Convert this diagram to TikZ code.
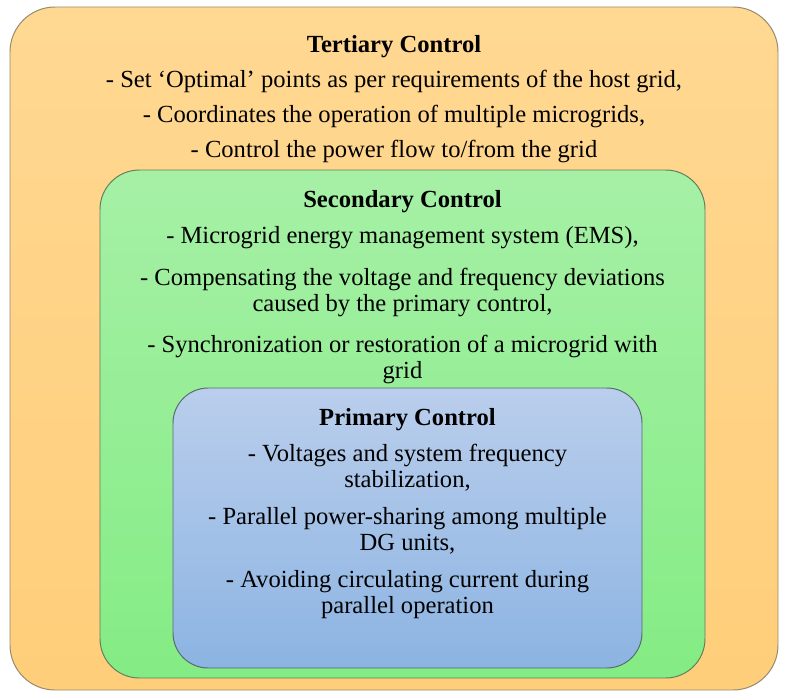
\documentclass[tikz,border=0pt]{standalone}
\usepackage{fontspec}
\newfontfamily\diagfont{Liberation Serif}[Ligatures={TeX,NoCommon}]
\usepackage{tikz}

\definecolor{tertiarytop}{RGB}{255,216,146}
\definecolor{tertiarybot}{RGB}{255,206,122}
\definecolor{tertiaryline}{RGB}{150,138,108}
\definecolor{secondarytop}{RGB}{166,240,166}
\definecolor{secondarybot}{RGB}{132,236,132}
\definecolor{secondaryline}{RGB}{96,128,92}
\definecolor{primarytop}{RGB}{186,206,236}
\definecolor{primarybot}{RGB}{140,180,226}
\definecolor{primaryline}{RGB}{86,108,112}

\begin{document}
\begin{tikzpicture}[x=0.025cm, y=-0.025cm,
    level/.style={line width=0.7pt},
    txt/.style={align=center, inner sep=0pt,
                font=\diagfont\fontsize{17.5}{18.5}\selectfont}]
  \useasboundingbox (0,0) rectangle (785,692);

  % the three nested levels
  \draw[level, rounded corners=32pt, draw=tertiaryline,
        top color=tertiarytop, bottom color=tertiarybot] (10,7) rectangle (778,690);
  \draw[level, rounded corners=28pt, draw=secondaryline,
        top color=secondarytop, bottom color=secondarybot] (100,170) rectangle (705,678);
  \draw[level, rounded corners=25pt, draw=primaryline,
        top color=primarytop, bottom color=primarybot] (173,388) rectangle (642,668);

  % texts
  \node[txt, anchor=north] (tertiarytxt) at (394,35) {\textbf{Tertiary Control}\\[6.5pt]
    - Set `Optimal' points as per requirements of the host grid,\\[6.5pt]
    - Coordinates the operation of multiple microgrids,\\[6.5pt]
    - Control the power flow to/from the grid};
  \node[txt, anchor=north] (secondarytxt) at (402.5,190) {\textbf{Secondary Control}\\[7.5pt]
    - Microgrid energy management system (EMS),\\[11pt]
    - Compensating the voltage and frequency deviations\\
    caused by the primary control,\\[11pt]
    - Synchronization or restoration of a microgrid with\\
    grid};
  \node[txt, anchor=north] (primarytxt) at (407.5,408) {\textbf{Primary Control}\\[7.5pt]
    - Voltages and system frequency\\
    stabilization,\\[7.5pt]
    - Parallel power-sharing among multiple\\
    DG units,\\[7.5pt]
    - Avoiding circulating current during\\
    parallel operation};
\end{tikzpicture}
\end{document}
